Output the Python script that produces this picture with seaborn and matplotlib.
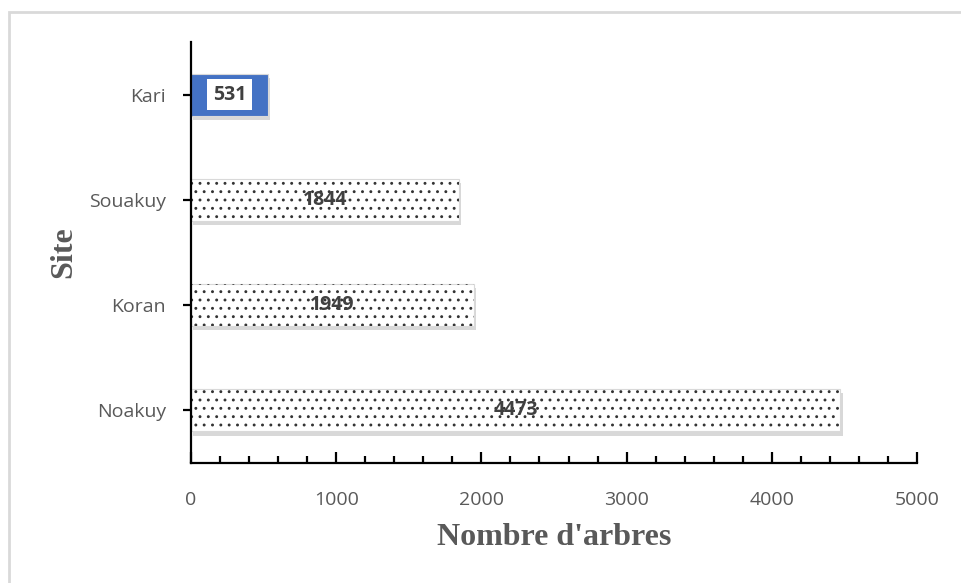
import matplotlib
matplotlib.use("Agg")
import matplotlib.pyplot as plt
import matplotlib.patheffects as pe
from matplotlib.patches import Rectangle
from matplotlib.ticker import MultipleLocator
import seaborn as sns

sites = ["Kari", "Souakuy", "Koran", "Noakuy"]
trees = [531, 1844, 1949, 4473]
fills = ["#4472C4", "white", "white", "white"]

sns.set_style("white")
plt.rcParams["hatch.linewidth"] = 0.9

fig = plt.figure(figsize=(9.62, 5.83), dpi=100)
ax = fig.add_axes([191 / 962, 1 - 463 / 583, (917 - 191) / 962, (463 - 42) / 583])

sns.barplot(x=trees, y=sites, orient="h", width=0.4, ax=ax, color="white")

shadow = [pe.SimplePatchShadow(offset=(1.5, -3), alpha=0.3, shadow_rgbFace="#7f7f7f"),
          pe.Normal()]
for bar, fc in zip(ax.patches, fills):
    bar.set_facecolor(fc)
    bar.set_edgecolor("#d9d9d9")
    bar.set_linewidth(0.8)
    bar.set_path_effects(shadow)
    if fc == "white":
        # dotted pattern on top of the bar
        x, y = bar.get_xy()
        ax.add_patch(Rectangle((x, y), bar.get_width(), bar.get_height(),
                               fill=False, hatch="..", edgecolor="#333333",
                               linewidth=0, zorder=bar.get_zorder() + 0.1))

for i, (v, fc) in enumerate(zip(trees, fills)):
    box = None
    if fc != "white":
        box = dict(boxstyle="square,pad=0.3", facecolor="white", edgecolor="none", hatch="..")
    ax.text(v / 2, i, str(v), ha="center", va="center", fontsize=14,
            fontweight="bold", color="#404040", family="Open Sans", bbox=box, zorder=5)

ax.set_xlim(0, 5000)
ax.set_ylim(3.5, -0.5)
ax.xaxis.set_major_locator(MultipleLocator(1000))
ax.xaxis.set_minor_locator(MultipleLocator(200))

for s in ["top", "right"]:
    ax.spines[s].set_visible(False)
for s in ["left", "bottom"]:
    ax.spines[s].set_color("black")
    ax.spines[s].set_linewidth(1.6)

ax.tick_params(axis="x", which="major", direction="in", length=8, width=1.6,
               color="black", labelsize=14, labelcolor="#595959", pad=20)
ax.tick_params(axis="x", which="minor", direction="in", length=5, width=1.6, color="black")
ax.tick_params(axis="y", which="major", direction="out", length=6, width=1.6,
               color="black", labelsize=14, labelcolor="#595959", pad=12)
ax.tick_params(axis="x", which="both", bottom=True)
ax.tick_params(axis="y", which="both", left=True)
for lbl in ax.get_xticklabels() + ax.get_yticklabels():
    lbl.set_family("Open Sans")

ax.set_xlabel("Nombre d'arbres", fontsize=23, fontweight="bold", color="#595959",
              family="Liberation Serif", labelpad=10)
ax.set_ylabel("Site", fontsize=23, fontweight="bold", color="#595959",
              family="Liberation Serif", labelpad=8)

fig.patches.append(Rectangle((9 / 962, -0.1), 1.2, (583 - 12) / 583 + 0.1,
                             transform=fig.transFigure, fill=False,
                             edgecolor="#d9d9d9", linewidth=2))

fig.savefig("out.png", dpi=100)
